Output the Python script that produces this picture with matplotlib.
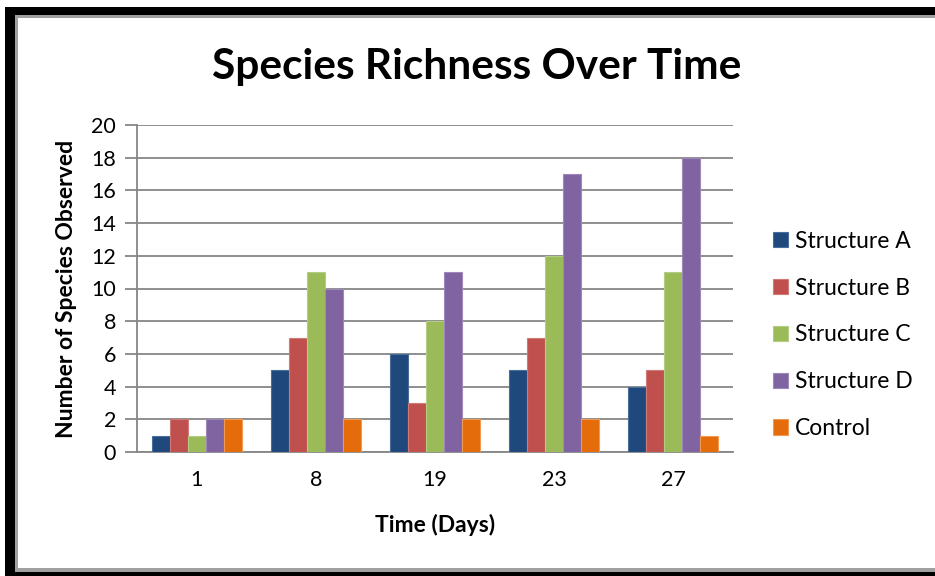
import matplotlib
matplotlib.use("Agg")
import matplotlib.pyplot as plt
from matplotlib.patches import Rectangle
import numpy as np

days = ["1", "8", "19", "23", "27"]
series_names = ["Structure A", "Structure B", "Structure C", "Structure D", "Control"]
structure_a = [1, 5, 6, 5, 4]
structure_b = [2, 7, 3, 7, 5]
structure_c = [1, 11, 8, 12, 11]
structure_d = [2, 10, 11, 17, 18]
control = [2, 2, 2, 2, 1]
colors = ["#1F497D", "#C0504D", "#9BBB59", "#8064A2", "#E46C0A"]
edges = ["#4A6E9A", "#D07A78", "#B5CC85", "#9E88BA", "#F09A55"]

plt.rcParams["font.family"] = ["Lato", "DejaVu Sans"]

W, H = 935, 576
fig = plt.figure(figsize=(W / 100, H / 100), dpi=100)
fig.patch.set_facecolor("white")

# picture frame: black band with a thin gray inner edge
def px_rect(x0, y0, x1, y1, color):
    fig.patches.append(Rectangle((x0 / W, 1 - y1 / H), (x1 - x0) / W, (y1 - y0) / H,
                                 transform=fig.transFigure, color=color, lw=0, zorder=0))

px_rect(5, 7, W, 15, "black")
px_rect(15, 15, W, 18, "#A0A0A0")
px_rect(5, 7, 15, H, "black")
px_rect(15, 15, 18, 572, "#A0A0A0")
px_rect(5, 572, W, H, "black")
px_rect(15, 568, W, 572, "#A0A0A0")

ax = fig.add_axes([137 / W, 1 - 452 / H, (733 - 137) / W, (452 - 125) / H])
ax.set_facecolor("white")

data = [structure_a, structure_b, structure_c, structure_d, control]
x = np.arange(len(days))
bw = 0.151
offsets = (np.arange(5) - 2) * bw
for vals, off, c, ec, name in zip(data, offsets, colors, edges, series_names):
    ax.bar(x + off, vals, width=bw, color=c, edgecolor=ec, linewidth=0.8,
           label=name, zorder=3)

ax.set_xlim(-0.5, len(days) - 0.5)
ax.set_ylim(0, 20)
ax.set_yticks(range(0, 21, 2))
ax.set_xticks(x)
ax.set_xticklabels(days)
ax.grid(axis="y", color="#868686", linewidth=1.3, zorder=0)
for s in ["top", "right"]:
    ax.spines[s].set_visible(False)
for s in ["left", "bottom"]:
    ax.spines[s].set_color("#868686")
    ax.spines[s].set_linewidth(1.3)
ax.tick_params(axis="y", length=9, width=1.3, color="#868686", labelsize=15.5, pad=6)
ax.tick_params(axis="x", length=0, labelsize=15.5, pad=13)

ax.set_ylabel("Number of Species Observed", fontsize=16.5, fontweight="bold", labelpad=10)
ax.set_xlabel("Time (Days)", fontsize=16.5, fontweight="bold", labelpad=17)

fig.text(477 / W, 1 - 67 / H, "Species Richness Over Time", fontsize=30.5,
         fontweight="bold", ha="center", va="center")

leg = ax.legend(loc="center left", bbox_to_anchor=(1.067, 0.358), frameon=False,
                fontsize=16.5, handlelength=0.66, handleheight=0.66,
                handletextpad=0.3, labelspacing=1.13, borderaxespad=0, borderpad=0)

fig.savefig("out.png", dpi=100, facecolor="white")
